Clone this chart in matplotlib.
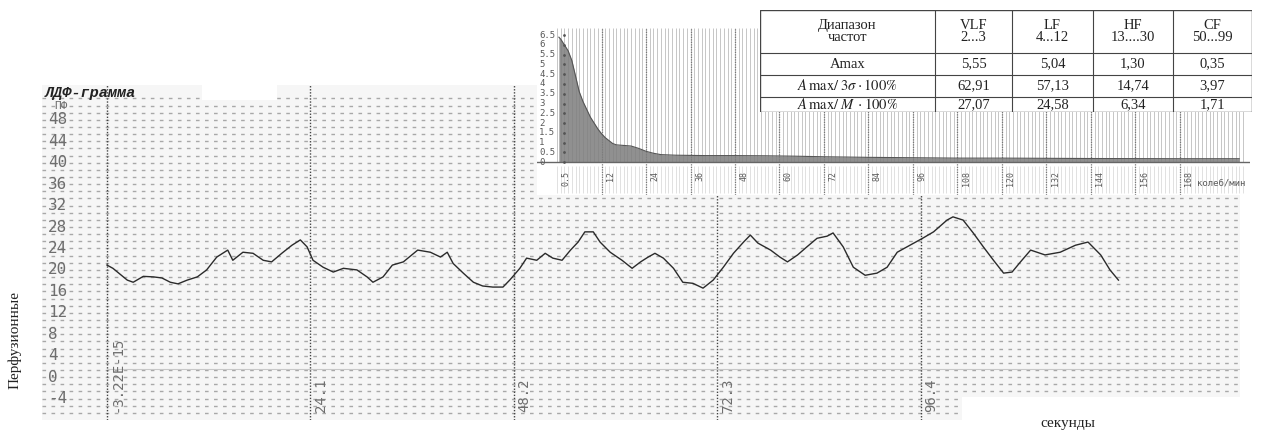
import numpy as np
import matplotlib
matplotlib.use("Agg")
import matplotlib.pyplot as plt
from matplotlib.patches import Rectangle

plt.rcParams['font.family'] = ['Liberation Serif', 'DejaVu Serif']
plt.rcParams['mathtext.fontset'] = 'stix'

# LDF trace: time (s) and perfusion units
trace_t = [0, 0.7, 2.4, 3.1, 4.3, 5.5, 6.5, 7.5, 8.4, 9.5,
           10.7, 11.8, 13.0, 14.3, 14.9, 16.1, 17.3, 18.5, 19.5, 20.7,
           21.9, 22.9, 23.7, 24.4, 25.6, 26.8, 28.0, 29.6, 30.8, 31.5,
           32.7, 33.8, 35.1, 36.8, 38.3, 39.5, 40.3, 41.0, 42.2, 43.4,
           44.5, 45.7, 46.9, 47.7, 48.9, 49.7, 50.9, 51.9, 52.8, 53.9,
           54.9, 55.8, 56.6, 57.6, 58.4, 59.6, 61.0, 62.2, 63.2, 64.1,
           64.9, 65.9, 67.1, 68.2, 69.4, 70.6, 71.8, 73.0, 74.2, 75.4,
           76.2, 77.1, 78.6, 79.7, 80.6, 81.8, 82.9, 84.1, 85.3, 86.0,
           87.2, 88.4, 89.8, 91.2, 92.4, 93.6, 95.1, 96.6, 97.9, 99.5,
           100.2, 101.4, 102.6, 103.8, 105.0, 106.2, 107.2, 108.2, 109.4, 111.1,
           112.9, 114.7, 116.2, 117.7, 118.8, 119.8]
trace_pf = [20.9, 20.3, 18.1, 17.7, 18.8, 18.7, 18.5, 17.7, 17.4, 18.1,
            18.7, 20.0, 22.4, 23.7, 21.8, 23.3, 23.1, 21.8, 21.5, 23.1,
            24.6, 25.6, 24.3, 21.8, 20.5, 19.6, 20.3, 20.0, 18.7, 17.7,
            18.7, 20.9, 21.5, 23.7, 23.3, 22.4, 23.3, 21.2, 19.4, 17.7,
            17.0, 16.8, 16.8, 18.1, 20.3, 22.2, 21.8, 23.1, 22.2, 21.8,
            23.7, 25.2, 27.1, 27.1, 25.2, 23.3, 21.8, 20.3, 21.5, 22.4,
            23.1, 22.2, 20.3, 17.7, 17.5, 16.6, 18.1, 20.5, 23.1, 25.2,
            26.5, 25.0, 23.7, 22.4, 21.5, 22.8, 24.3, 25.9, 26.3, 26.9,
            24.3, 20.5, 19.0, 19.4, 20.5, 23.3, 24.6, 25.9, 27.1, 29.3,
            29.9, 29.3, 26.9, 24.3, 21.8, 19.4, 19.6, 21.5, 23.7, 22.8,
            23.3, 24.6, 25.2, 22.8, 20.0, 18.1]

pf_ticks = [48, 44, 40, 36, 32, 28, 24, 20, 16, 12, 8, 4, 0, -4]
time_marks = [0, 24.1, 48.2, 72.3, 96.4]
time_labels = ['-3.22E-15', '24.1', '48.2', '72.3', '96.4']

# amplitude spectrum (колеб/мин -> amplitude)
spec_f = [0.5, 1, 2, 3, 4, 5, 6, 7, 8, 9, 10, 11, 12, 13, 14, 15, 16, 18, 20, 22,
          24, 26, 28, 32, 40, 48, 56, 64, 72, 84, 96, 108, 120, 144, 168, 184]
spec_a = [6.4, 6.3, 6.0, 5.7, 5.2, 4.4, 3.6, 3.1, 2.7, 2.3, 2.0, 1.7, 1.45, 1.25, 1.1,
          0.95, 0.88, 0.85, 0.82, 0.7, 0.55, 0.45, 0.38, 0.35, 0.33, 0.33, 0.32, 0.3,
          0.27, 0.24, 0.22, 0.2, 0.2, 0.18, 0.17, 0.17]
spec_yticks = [6.5, 6, 5.5, 5, 4.5, 4, 3.5, 3, 2.5, 2, 1.5, 1, 0.5, 0]
spec_xticks = [0, 12, 24, 36, 48, 60, 72, 84, 96, 108, 120, 132, 144, 156, 168]
spec_xlabels = ['0.5'] + [str(v) for v in spec_xticks[1:]]

# rhythm table
bands = ['VLF\n2...3', 'LF\n4...12', 'HF\n13....30', 'CF\n50...99']
row_names = ['Amax', r'$\mathit{A}\,\mathrm{max}/\;3\sigma\cdot100\%$',
             r'$\mathit{A}\,\mathrm{max}/\;\mathit{M}\;\cdot100\%$']
amax = ['5,55', '5,04', '1,30', '0,35']
amax_3sigma = ['62,91', '57,13', '14,74', '3,97']
amax_m = ['27,07', '24,58', '6,34', '1,71']

W, H = 1262, 434
fig = plt.figure(figsize=(W / 100, H / 100), dpi=100)


def px_axes(x0, y0, x1, y1):
    return fig.add_axes([x0 / W, 1 - y1 / H, (x1 - x0) / W, (y1 - y0) / H])


grid_col = '#8e8e8e'
txt_col = '#5a5a5a'

# ---- main LDF-gram ----
ax = px_axes(42, 85, 1240, 420)
ax.set_facecolor('#f6f6f6')
ax.set_xlim(-7.7, 134.2)
ax.set_ylim(-8.0, 54.5)
for s in ax.spines.values():
    s.set_visible(False)
ax.set_xticks([])
ax.set_yticks([])

rows = np.arange(48 + 4, -8, -4 / 3)
ax.hlines(rows, -7.7, 134.2, colors=grid_col, linewidth=1.0,
          linestyles=(0, (2.6, 3.9)), alpha=0.75, zorder=1)
for tm in time_marks:
    ax.axvline(tm, color='#444444', linewidth=1.0, linestyle=(0, (1, 1.2)), zorder=2)
ax.hlines(1.6, 0, 134.2, colors='#c8c8c8', linewidth=0.8, zorder=2)

for v in pf_ticks:
    ax.text(-7.0, v, str(v), family='DejaVu Sans Mono', fontsize=11.5,
            color='#6e6e6e', va='center', ha='left', zorder=3)
ax.text(-6.3, 50.6, 'ПФ', family='DejaVu Sans Mono', fontsize=8,
        color='#6e6e6e', va='center', ha='left', zorder=3)

for tm, lab in zip(time_marks, time_labels):
    ax.text(tm + 0.4, -6.6, lab, rotation=90, family='DejaVu Sans Mono', fontsize=10,
            color='#6e6e6e', ha='left', va='bottom', zorder=3)

ax.plot(trace_t, trace_pf, color='#2b2b2b', linewidth=1.0, zorder=4)

# title strip
fig.patches.append(Rectangle((202 / W, 1 - 100 / H), 75 / W, 15 / H,
                             transform=fig.transFigure, facecolor='white',
                             edgecolor='none', zorder=5))
fig.text(45 / W, 1 - 93 / H, 'ЛДФ-грамма', family='Liberation Mono',
         fontweight='bold', fontstyle='italic', fontsize=11, color='#222222',
         va='center', ha='left', zorder=6)

# bottom-right corner is blank, with axis caption
fig.patches.append(Rectangle((962 / W, 0), 300 / W, 37 / H,
                             transform=fig.transFigure, facecolor='white',
                             edgecolor='none', zorder=5))
fig.text(1040 / W, 1 - 424 / H, 'секунды', fontsize=11, color='#222222',
         va='center', ha='left', zorder=6)
fig.text(15 / W, 1 - 340 / H, 'Перфузионные', fontsize=11, color='#222222',
         rotation=90, va='center', ha='center')

# ---- spectrum inset ----
sx = px_axes(537, 28, 1250, 195)
sx.set_facecolor('white')
sx.set_xlim(-5.4, 186.9)
sx.set_ylim(-1.69, 6.87)
for s in sx.spines.values():
    s.set_visible(False)
sx.set_xticks([])
sx.set_yticks([])
sx.vlines(np.arange(0, 186, 1), 0, 6.87, colors='#bdbdbd', linewidth=0.6, zorder=1)
sx.vlines(np.arange(0, 186, 1), -1.6, -0.2, colors='#dcdcdc', linewidth=0.6, zorder=1)
for fx in spec_xticks[1:]:
    sx.axvline(fx, color='#777777', linewidth=0.9, linestyle=(0, (1, 1)), zorder=2)
sx.fill_between(spec_f, 0, spec_a, color='#7d7d7d', alpha=0.85, linewidth=0, zorder=3)
sx.plot(spec_f, spec_a, color='#555555', linewidth=0.8, zorder=4)
sx.axhline(0, color='#666666', linewidth=1.0, zorder=4)
for v in spec_yticks:
    lab = str(v).rstrip('0').rstrip('.') if v % 1 else str(int(v))
    sx.text(-4.8, v, lab, fontsize=6.5, family='DejaVu Sans Mono', color=txt_col,
            va='center', ha='left', zorder=5)
    sx.plot(2.0, v, marker='.', markersize=2, color='#555555', zorder=5)
for fx, lab in zip(spec_xticks, spec_xlabels):
    sx.text(fx + 1.2, -0.45, lab, rotation=90, fontsize=6, family='DejaVu Sans Mono',
            color=txt_col, ha='left', va='top', zorder=5)
sx.text(172.5, -1.05, 'колеб/мин', fontsize=6.5, family='DejaVu Sans Mono',
        color=txt_col, ha='left', va='center', zorder=5)

# ---- table of rhythm amplitudes ----
tx = px_axes(760, 10, 1252, 112)
tx.set_xlim(0, 492)
tx.set_ylim(102, 0)
tx.axis('off')
tx.add_patch(Rectangle((0, 0), 492, 102, facecolor='white', edgecolor='#444444',
                       linewidth=1.0))
col_edges = [0, 175, 252, 333, 413, 492]
row_edges = [0, 43, 65, 87, 102]
for cx in col_edges[1:-1]:
    tx.plot([cx, cx], [0, 102], color='#444444', linewidth=0.8)
for ry in row_edges[1:-1]:
    tx.plot([0, 492], [ry, ry], color='#444444', linewidth=0.8)

cell_rows = [['Диапазон\nчастот'] + bands,
             [row_names[0]] + amax,
             [row_names[1]] + amax_3sigma,
             [row_names[2]] + amax_m]
for i, row in enumerate(cell_rows):
    yc = (row_edges[i] + row_edges[i + 1]) / 2
    for j, cell in enumerate(row):
        xc = (col_edges[j] + col_edges[j + 1]) / 2
        tx.text(xc, yc, cell, ha='center', va='center', fontsize=10.5,
                color='#222222', linespacing=0.9)

fig.savefig('out.png', dpi=100)
